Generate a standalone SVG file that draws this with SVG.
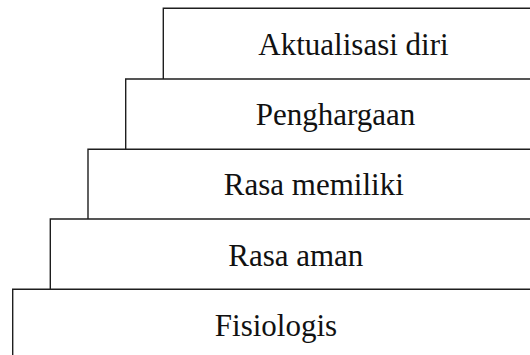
<svg xmlns="http://www.w3.org/2000/svg" width="530" height="355" viewBox="0 0 530 355">
<style>
.step{fill:none;stroke:#1e1e1e;stroke-width:1.4}
.lbl{font-family:"Liberation Serif","Times New Roman",serif;font-size:31px;fill:#111;text-anchor:middle}
</style>
<rect width="530" height="355" fill="#fff"/>
<g id="connectors"/>
<g id="aktualisasi">
<path class="step" d="M163.3 79 V8.3 H530"/>
<text class="lbl" x="353.5" y="54.5">Aktualisasi diri</text>
</g>
<g id="penghargaan">
<path class="step" d="M125.7 149.3 V79 H530"/>
<text class="lbl" x="335.5" y="124.7">Penghargaan</text>
</g>
<g id="rasa-memiliki">
<path class="step" d="M88 219 V149.3 H530"/>
<text class="lbl" x="313.8" y="195">Rasa memiliki</text>
</g>
<g id="rasa-aman">
<path class="step" d="M50.3 289.3 V219 H530"/>
<text class="lbl" x="295.8" y="265.5">Rasa aman</text>
</g>
<g id="fisiologis">
<path class="step" d="M12.7 355 V289.3 H530"/>
<text class="lbl" x="276" y="335.5">Fisiologis</text>
</g>
</svg>
